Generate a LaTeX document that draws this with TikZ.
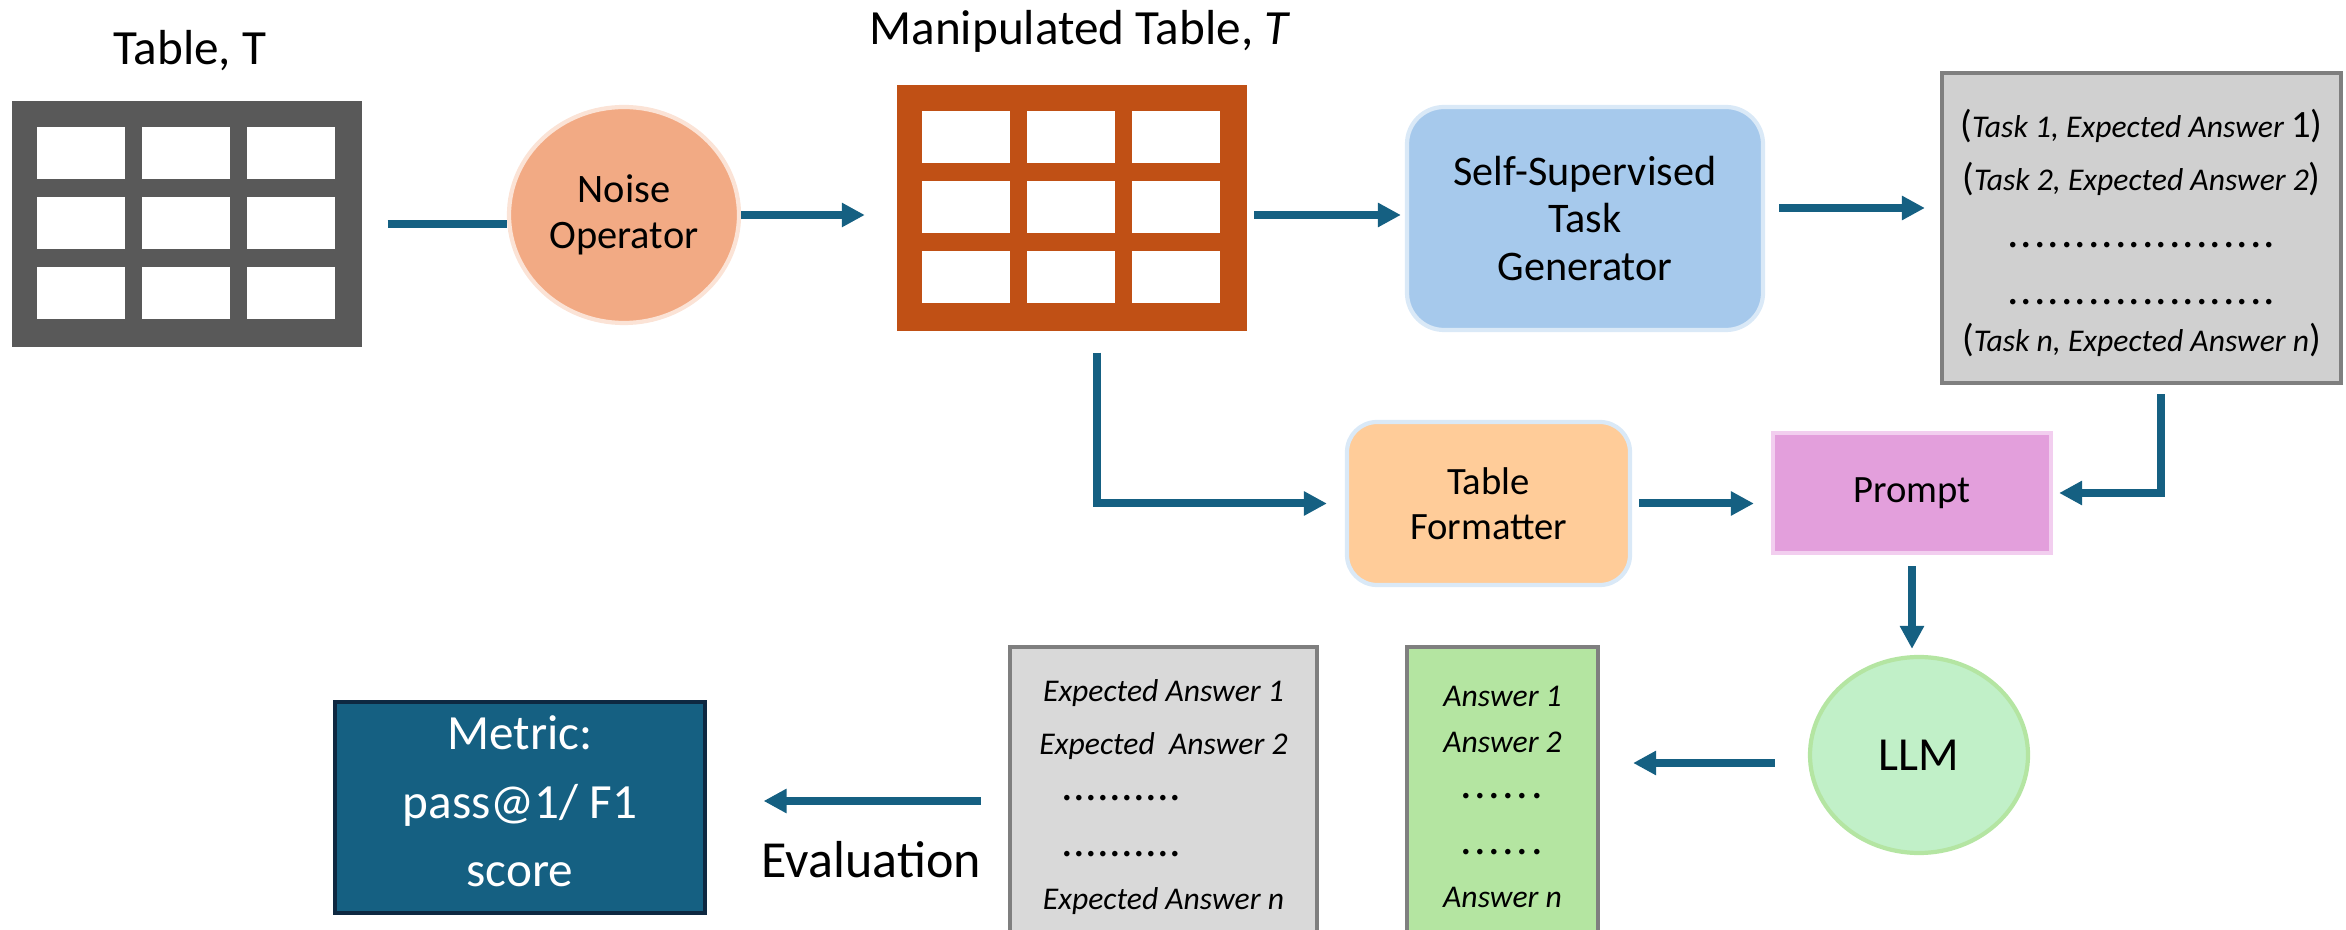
\documentclass[tikz,border=0pt]{standalone}
\usepackage{fontspec}
\setmainfont{Carlito}
\usepackage{xcolor}
\usepackage{tikz}
\usetikzlibrary{arrows.meta, positioning, calc, shapes.geometric}
\definecolor{tblgray}{RGB}{89, 89, 89}
\definecolor{rust}{RGB}{192, 80, 21}
\definecolor{salmon}{RGB}{242, 170, 132}
\definecolor{salmonrim}{RGB}{251, 227, 214}
\definecolor{skyblue}{RGB}{166, 201, 236}
\definecolor{skyrim}{RGB}{218, 233, 247}
\definecolor{peach}{RGB}{255, 204, 153}
\definecolor{orchid}{RGB}{227, 159, 220}
\definecolor{orchidrim}{RGB}{242, 206, 239}
\definecolor{mint}{RGB}{193, 240, 200}
\definecolor{mintrim}{RGB}{180, 229, 162}
\definecolor{leaf}{RGB}{180, 229, 161}
\definecolor{taskgray}{RGB}{208, 208, 208}
\definecolor{paper}{RGB}{217, 217, 217}
\definecolor{rimgray}{RGB}{127, 127, 127}
\definecolor{flow}{RGB}{21, 96, 130}
\definecolor{navy}{RGB}{14, 40, 65}
\newcommand{\dotrow}[2]{\makebox[#2]{\fontsize{13}{15}\selectfont
  \xleaders\hbox to \dimexpr#2/#1\relax{\hss.\hss}\hfill}}
\newcommand{\lpar}{{\upshape\fontsize{11}{15}\selectfont(}}
\newcommand{\rpar}{{\upshape\fontsize{11}{15}\selectfont)}}

\begin{document}
\begin{tikzpicture}[
  tbl/.style={rectangle, fill=#1, minimum width=3.5cm, minimum height=2.46cm,
              inner sep=0pt},
  oval/.style={ellipse, draw=#1, line width=1.2pt, align=center, inner sep=0pt},
  card/.style={rectangle, rounded corners=#1, line width=1.2pt, align=center,
               inner sep=0pt},
  sheet/.style={rectangle, draw=rimgray, fill=#1, line width=1.2pt,
                align=center, inner sep=0pt, font=\fontsize{9}{15}\selectfont},
  ttl/.style={font=\fontsize{14}{17}\selectfont, inner sep=0pt},
  ln/.style={line width=0.8mm, draw=flow},
  arr/.style={ln, -{Triangle[length=2.3mm, width=2.3mm]}}
]
  \useasboundingbox (0,0) rectangle (23.46,-9.30);

  %% The two tables
  \node[tbl=tblgray] (tabT) at (1.87,-2.24) {};
  \node[tbl=rust]    (tabM) at (10.715,-2.08) {};
  \foreach \tb in {tabT, tabM}
    \foreach \i in {0,1,2}
      \foreach \j in {0,1,2}
        \fill[white] ([shift={(0.26+1.05*\i,-0.27-0.70*\j)}]\tb.north west)
          rectangle ++(0.88,-0.52);

  \node[ttl, anchor=base] (ttlT) at (1.90,-0.65) {Table, T};
  \node[ttl, anchor=base] (ttlM) at (10.80,-0.45) {Manipulated Table, \textit{T}};

  %% Top row
  \node[oval=salmonrim, fill=salmon, minimum width=2.30cm, minimum height=2.16cm,
        font=\fontsize{11.5}{13}\selectfont] (noise) at (6.24,-2.15)
    {Noise\\Operator};

  \node[card=3.7mm, fill=skyblue, draw=skyrim, minimum width=3.56cm,
        minimum height=2.23cm, font=\fontsize{12}{13.6}\selectfont]
    (sstg) at (15.85,-2.185) {Self-Supervised\\Task\\Generator};

  \node[sheet=taskgray, minimum width=3.99cm, minimum height=3.10cm]
    (tasks) at (21.415,-2.28)
    {\rule{0pt}{11pt}\lpar\textit{Task 1, Expected Answer }{\fontsize{11}{15}\selectfont 1}\rpar\\
     \lpar\textit{Task 2, Expected Answer 2}\rpar\\[1.2pt]
     \dotrow{20}{2.7cm}\\[1.2pt]
     \dotrow{20}{2.7cm}\\[-1.4pt]
     \lpar\textit{Task n, Expected Answer n}\rpar};

  %% Middle row
  \node[card=3mm, fill=peach, draw=skyrim, minimum width=2.83cm,
        minimum height=1.63cm, font=\fontsize{11}{12.8}\selectfont]
    (tf) at (14.885,-5.035) {Table\\Formatter};

  \node[rectangle, fill=orchid, draw=orchidrim, line width=1.2pt,
        minimum width=2.78cm, minimum height=1.20cm,
        font=\fontsize{11}{13}\selectfont] (prompt) at (19.12,-4.93) {Prompt};

  %% Bottom row
  \node[oval=mintrim, fill=mint, minimum width=2.18cm, minimum height=1.96cm,
        font=\fontsize{13.5}{15}\selectfont] (llm) at (19.19,-7.55) {LLM};

  \node[sheet=leaf, minimum width=1.91cm, minimum height=3.00cm,
        font=\fontsize{9}{15}\selectfont\itshape] (ansbox) at (15.025,-7.97)
    {Answer 1\\[-2pt]
     Answer 2\\[-2pt]
     \dotrow{6}{0.85cm}\\[1pt]
     \dotrow{6}{0.85cm}\\
     Answer n};

  \node[sheet=paper, minimum width=3.07cm, minimum height=3.00cm,
        font=\fontsize{9}{15}\selectfont\itshape] (exptbox) at (11.635,-7.97)
    {Expected Answer 1\\
     Expected\ \ Answer 2\\[-2pt]
     \makebox[2.02cm][l]{\dotrow{10}{1.2cm}}\\[1pt]
     \makebox[2.02cm][l]{\dotrow{10}{1.2cm}}\\
     Expected Answer n};

  \node[rectangle, fill=flow, draw=navy, line width=0.9pt, text=white,
        minimum width=3.70cm, minimum height=2.11cm, align=center,
        font=\fontsize{14}{19.5}\selectfont] (metric) at (5.20,-8.075)
    {Metric:\\pass@1/ F1\\score\rule[-3.4pt]{0pt}{0pt}};

  %% Connectors
  \draw[ln] ([xshift=2.5mm]tabT.east) -- (tabT.east -| noise.west);
  \draw[arr, shorten >=3.1mm] (noise.east) -- (noise.east -| tabM.west);
  \draw[arr, shorten <=0.7mm, shorten >=0.4mm]
    (noise.east -| tabM.east) -- (noise.east -| sstg.west);
  \draw[arr, shorten <=1.4mm, shorten >=1.5mm]
    (tabM.east -| sstg.east) -- (tabM.east -| tasks.west);

  \draw[arr, shorten >=1.8mm] ([xshift=2.5mm,yshift=-2.1mm]tabM.south) |- (tf.west);
  \draw[arr, shorten <=0.7mm, shorten >=1.7mm] (tf.east) -- (tf.east -| prompt.west);
  \draw[arr, shorten >=0.6mm] ([xshift=1.95mm,yshift=-0.9mm]tasks.south) |- (prompt.east);
  \draw[arr, shorten <=1.1mm, shorten >=0.6mm] (prompt.south) -- (prompt.south |- llm.north);

  \path ([yshift=-0.8mm]llm.west) coordinate (llmout);
  \draw[arr, shorten <=3.3mm, shorten >=3.3mm] (llmout) -- (llmout -| ansbox.east);

  \path ([xshift=-2.7mm,yshift=-0.4mm]exptbox.west) coordinate (evalout);
  \draw[arr, shorten >=5.7mm] (evalout) -- (evalout -| metric.east)
    node[pos=0.4, below=3.6mm, inner sep=0pt, font=\fontsize{14.8}{17}\selectfont]
    {Evaluation};
\end{tikzpicture}
\end{document}
